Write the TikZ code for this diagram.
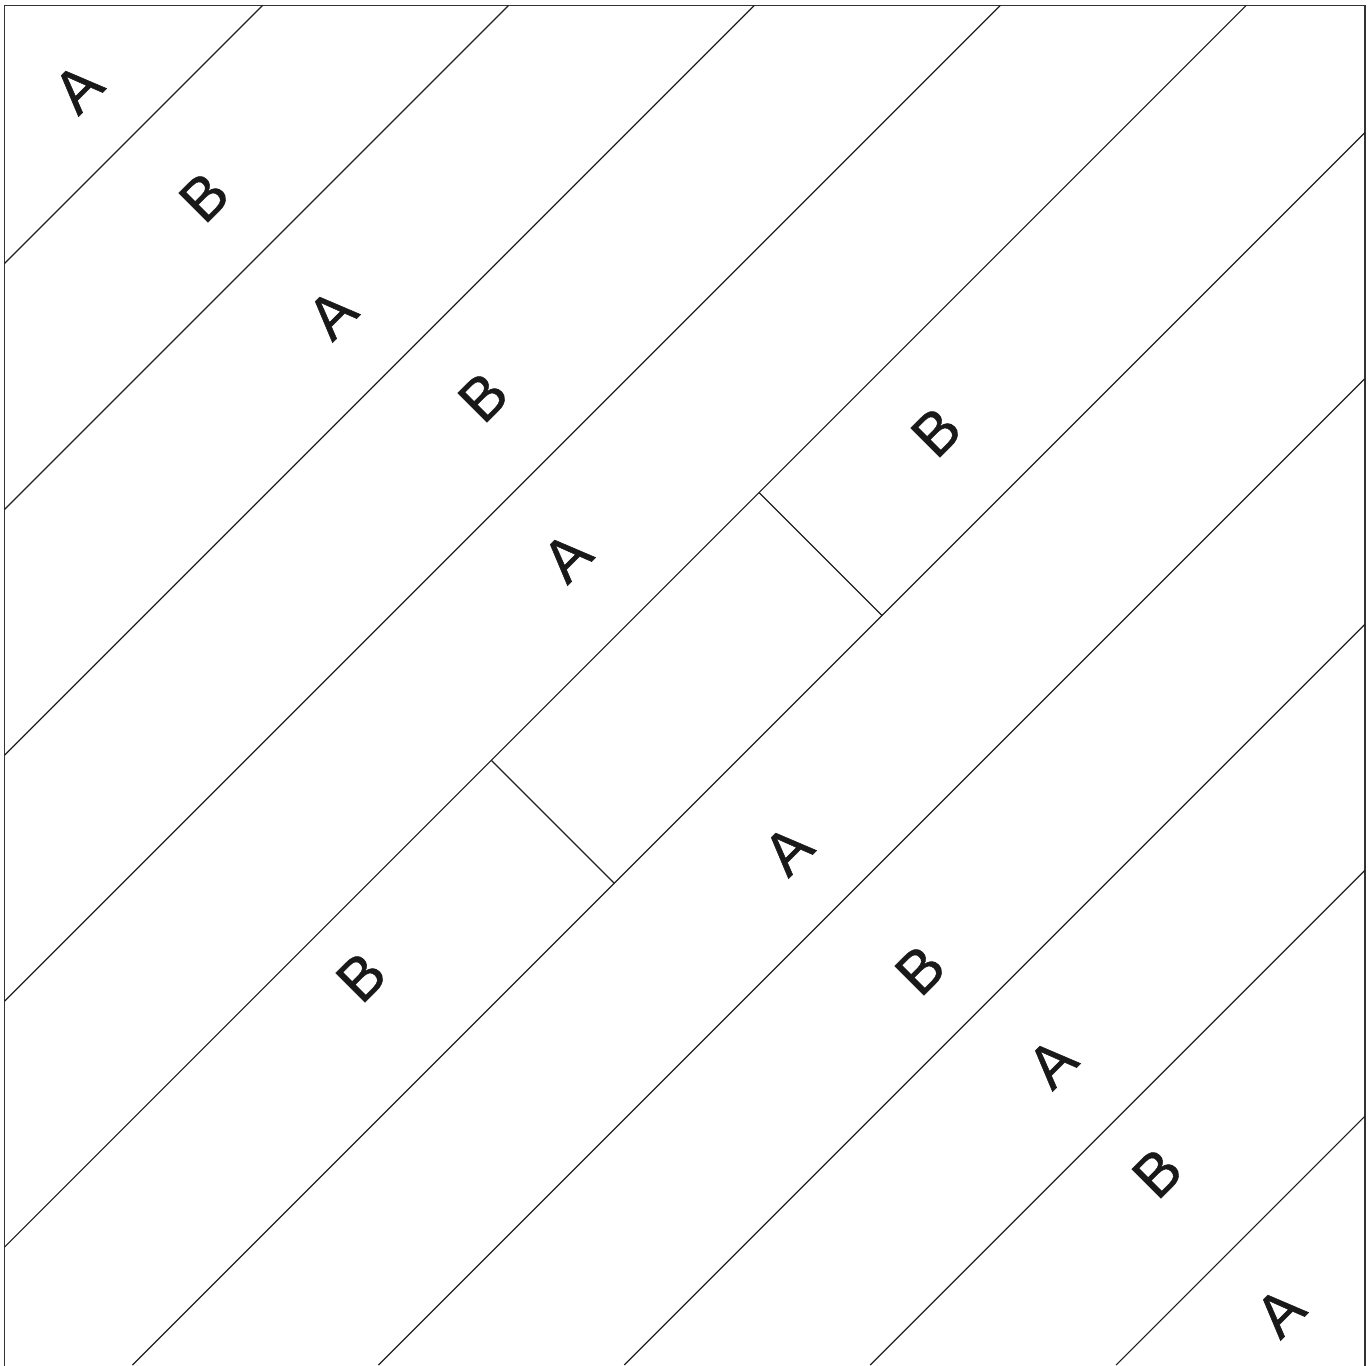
\documentclass[tikz,border=0pt]{standalone}
\usepackage{fontspec}
\setmainfont{Liberation Sans}
\newfontfamily\labfont[FakeBold=0.8]{Liberation Sans}
\begin{document}
\begin{tikzpicture}[x=1pt,y=-1pt,
  edge/.style={line width=1.2pt,draw=black!88},
  frameline/.style={line width=1.5pt,draw=black!80},
  lab/.style={rotate=45,inner sep=0pt,text=black!90,font=\labfont\fontsize{60}{60}\selectfont}]
\useasboundingbox (0,0) rectangle (1372,1365);
% frame (open at the bottom edge of the picture)
\draw[frameline] (4.5,1366) -- (4.5,5.5) -- (1365,5.5) -- (1365,1366);
% diagonal lines x+y=c
\foreach \k in {0,...,4}{
  \pgfmathsetmacro{\c}{268+245.9*\k}
  \draw[edge] (4.5,\c-4.5) -- (\c-5.5,5.5);
}
\foreach \k in {5,...,9}{
  \pgfmathsetmacro{\c}{268+245.9*\k}
  \draw[edge] (\c-1365,1365) -- (1365,\c-1365);
}
% cross joints in the split strip
\coordinate (p1) at (759,492.6);
\coordinate (q1) at (882,615.5);
\coordinate (p2) at (491.3,760.3);
\coordinate (q2) at (614.2,883.2);
\draw[edge] (p1) -- (q1);
\draw[edge] (p2) -- (q2);
% labels
\node[lab] (a1) at (78,88) {A};
\node[lab] (b1) at (204,197) {B};
\node[lab] (a2) at (332,314) {A};
\node[lab] (b2) at (483,397) {B};
\node[lab] (a3) at (567,557) {A};
\node[lab] (b3) at (936,432) {B};
\node[lab] (b4) at (361,977) {B};
\node[lab] (a4) at (788,850) {A};
\node[lab] (b5) at (920,970) {B};
\node[lab] (a5) at (1052,1063) {A};
\node[lab] (b6) at (1157,1173) {B};
\node[lab] (a6) at (1280,1312) {A};
\end{tikzpicture}
\end{document}
